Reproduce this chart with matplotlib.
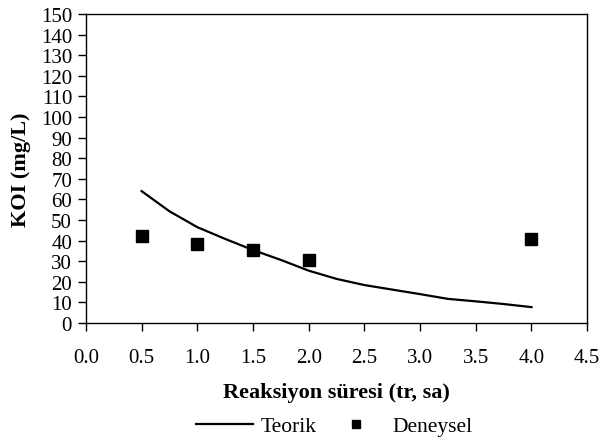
import matplotlib.pyplot as plt
import numpy as np

plt.rcParams['font.family'] = ['Liberation Serif', 'DejaVu Serif']

# theoretical COD curve
t_teorik = [0.5, 0.75, 1.0, 1.25, 1.5, 1.75, 2.0, 2.25, 2.5, 2.75, 3.0, 3.25, 3.5, 3.75, 4.0]
koi_teorik = [64, 54.2, 46.5, 40.8, 35.4, 30.6, 25.4, 21.4, 18.4, 16.2, 14, 11.7, 10.5, 9.2, 7.7]

# measured COD
t_deney = [0.5, 1.0, 1.5, 2.0, 4.0]
koi_deney = [42.2, 38.3, 35.4, 30.6, 41]

xticks = np.arange(0, 4.51, 0.5)
yticks = np.arange(0, 151, 10)

fig = plt.figure(figsize=(6.01, 4.39), dpi=100)
ax = fig.add_axes([0.143, 0.262, 0.834, 0.704])

ax.plot(t_teorik, koi_teorik, color='black', lw=1.6, label='Teorik')
ax.plot(t_deney, koi_deney, 's', color='black', ms=8, label='Deneysel', ls='none')

ax.set_xlim(0, 4.5)
ax.set_ylim(0, 150)
ax.set_xticks(xticks)
ax.set_xticklabels(['%.1f' % v for v in xticks])
ax.set_yticks(yticks)
ax.tick_params(direction='out', length=6, width=1, labelsize=15, pad=4)
ax.tick_params(axis='x', pad=12)
for s in ax.spines.values():
    s.set_linewidth(1)
    s.set_color('black')

ax.set_xlabel('Reaksiyon süresi (tr, sa)', fontsize=16, fontweight='bold', labelpad=11)
ax.set_ylabel('KOI (mg/L)', fontsize=16, fontweight='bold', labelpad=7)

fig.legend(loc='lower center', bbox_to_anchor=(0.556, -0.04), ncol=2, frameon=False,
           fontsize=15.5, handlelength=2.65, columnspacing=0.5, handletextpad=0.35,
           markerscale=0.75)

fig.savefig('out.png', dpi=100)
